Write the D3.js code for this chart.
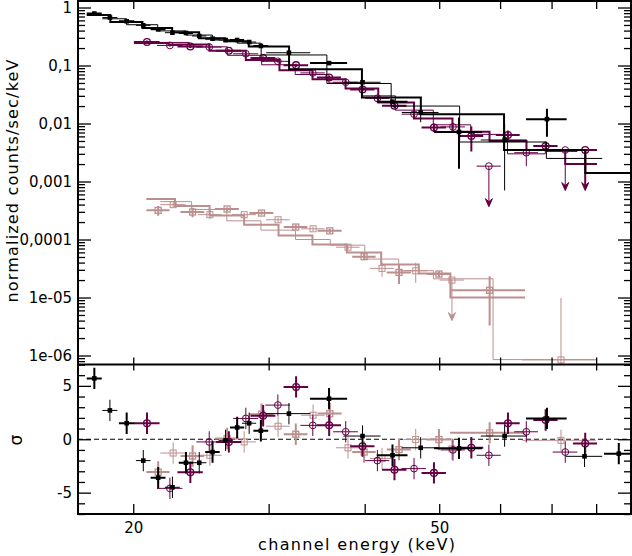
<!DOCTYPE html>
<html>
<head>
<meta charset="utf-8">
<script src="https://cdn.jsdelivr.net/npm/d3@7"></script>
<style>
  body { margin: 0; background: #fff; }
  svg { display: block; font-family: 'DejaVu Sans', sans-serif; }
</style>
</head>
<body>
<svg id="chart" width="632" height="556"></svg>
<script>
// spectrum 1 (black, filled squares) - null flux = negative, not drawn on log axis
const blackE = [17.80, 18.65, 19.61, 20.61, 21.55, 22.49, 23.42, 24.37, 25.36, 26.37, 27.30, 28.30, 29.31, 31.88, 35.95, 39.74, 43.47, 47.30, 53.05, 60.82, 69.04, 77.26, 85.61]
const blackDE = [0.40, 0.42, 0.45, 0.45, 0.48, 0.50, 0.50, 0.52, 0.55, 0.55, 0.58, 0.60, 0.65, 2.1, 2.0, 2.2, 2.0, 2.6, 3.8, 4.2, 4.2, 4.2, 3.7]
const blackFlux = [0.787, 0.671, 0.579, 0.493, 0.420, 0.368, 0.364, 0.323, 0.290, 0.275, 0.275, 0.254, 0.217, 0.166, 0.110, 0.0514, 0.0237, 0.0155, 0.00716, 0.0052, 0.0119, null, null]
const blackErr = [0.02, 0.018, 0.016, 0.015, 0.014, 0.032, 0.013, 0.012, 0.011, 0.011, 0.011, 0.010, 0.009, 0.006, 0.005, 0.003, 0.002, 0.005, 0.0055, 0.0045, 0.006, 0, 0]
const blackModel = [0.74, 0.64, 0.565, 0.505, 0.445, 0.395, 0.375, 0.335, 0.295, 0.275, 0.262, 0.243, 0.212, 0.152, 0.086, 0.049, 0.028, 0.020, 0.0145, 0.0048, 0.0035, 0.0025, 0.0014]
const blackSigma = [5.7, 2.7, 1.5, -2.0, -3.6, -4.5, -2.2, -2.2, -1.2, -0.1, 1.1, 1.5, 0.8, 2.4, 3.8, 0.3, -1.5, -0.8, -0.85, 0.3, 1.95, -1.6, -1.35]

// spectrum 2 (purple, open circles)
const purpleE = [20.84, 22.32, 23.73, 25.11, 26.63, 28.02, 29.51, 30.84, 32.57, 34.24, 35.96, 37.79, 39.74, 41.55, 43.73, 46.37, 49.22, 52.10, 55.05, 58.02, 61.43, 64.90, 68.77, 72.93, 77.42]
const purpleDE = [0.8, 0.85, 0.9, 0.95, 1.0, 1.05, 1.1, 1.15, 1.2, 1.25, 1.3, 1.4, 1.45, 1.5, 1.6, 1.7, 1.8, 1.9, 2.0, 2.1, 2.2, 2.3, 2.5, 2.7, 2.8]
const purpleFlux = [0.254, 0.222, 0.213, 0.208, 0.1795, 0.1593, 0.1347, 0.118, 0.1014, 0.0746, 0.0623, 0.0514, 0.0386, 0.0272, 0.0202, 0.0145, 0.00853, 0.00874, 0.0061, 0.00184, 0.00635, 0.00314, 0.00409, 0.00349, 0.00349]
const purpleErr = [0.016, 0.013, 0.012, 0.011, 0.010, 0.009, 0.008, 0.007, 0.006, 0.005, 0.0045, 0.0038, 0.003, 0.0024, 0.002, 0.0017, 0.0014, 0.0013, 0.0028, 0, 0.0012, 0.0013, 0.0008, 0, 0]
const purpleLimit = [0, 0, 0, 0, 0, 0, 0, 0, 0, 0, 0, 0, 0, 0, 0, 0, 0, 0, 0, 1, 0, 0, 0, 1, 1]
const purpleModel = [0.245, 0.25, 0.23, 0.21, 0.18, 0.15, 0.125, 0.103, 0.083, 0.070, 0.058, 0.050, 0.040, 0.030, 0.023, 0.017, 0.0122, 0.0095, 0.0072, 0.0065, 0.0050, 0.0030, 0.0035, 0.0033, 0.0020]
const purpleSigma = [1.5, -4.6, -3.1, -0.25, -0.25, 1.95, 2.2, 3.2, 4.9, 1.3, 1.3, 0.7, -0.65, -2.0, -2.85, -2.75, -3.15, -1.0, -0.8, -1.5, 1.5, 0.7, 1.8, -1.2, -0.4]

// spectrum 3 (pink, open squares)
const pinkE = [21.55, 22.54, 23.89, 25.16, 26.49, 27.88, 29.37, 30.86, 32.54, 34.27, 36.03, 38.05, 39.93, 42.13, 44.33, 46.60, 49.96, 51.94, 58.15, 72.0]
const pinkDE = [0.75, 0.85, 0.85, 0.9, 0.95, 1.0, 1.05, 1.1, 1.15, 1.2, 1.3, 1.35, 1.4, 1.5, 1.6, 1.65, 1.8, 1.9, 6.5, 7.9]
const pinkFlux = [3.18e-4, 3.99e-4, 2.98e-4, 2.68e-4, 3.36e-4, 2.68e-4, 2.86e-4, 2.19e-4, 1.64e-4, 1.53e-4, 1.41e-4, 7.37e-5, 5.06e-5, 3.18e-5, 2.71e-5, 2.89e-5, 2.54e-5, 2.0e-5, 1.33e-5, 8.4e-7]
const pinkErr = [0.6e-4, 0.4e-4, 0.55e-4, 0.45e-4, 0.25e-4, 0.2e-4, 0.2e-4, 0.18e-4, 0.15e-4, 0.14e-4, 0.12e-4, 0.6e-5, 0.5e-5, 0.9e-5, 1.0e-5, 1.1e-5, 0.3e-5, 0, 1.0e-5, 9.0e-6]
const pinkLimit = [0, 0, 0, 0, 0, 0, 0, 0, 0, 0, 0, 0, 0, 0, 0, 0, 0, 1, 0, 0]
const pinkModel = [5.0e-4, 4.5e-4, 3.8e-4, 3.3e-4, 2.6e-4, 2.1e-4, 1.8e-4, 1.45e-4, 1.17e-4, 1.0e-4, 8.2e-5, 8.0e-5, 6.0e-5, 4.6e-5, 3.7e-5, 2.9e-5, 2.6e-5, 2.1e-5, 1.0e-5, 8.5e-7]
const pinkSigma = [-3.07, -1.29, -1.57, -1.5, 0.07, -0.25, 2.35, 1.22, 0.47, 2.25, 2.4, -0.8, -1.2, -1.8, -0.97, -0.03, -0.03, -0.9, 0.6, -0.1]

// axis ticks
const xTicks = [20, 30, 40, 50, 60, 70, 80]
const xTickLabels = ['20', '', '', '50', '', '', '']
const yMajor = [1, 0.1, 0.01, 0.001, 1e-4, 1e-5, 1e-6]
const yMajorLabels = ['1', '0,1', '0,01', '0,001', '0,0001', '1e-05', '1e-06']
const rMajor = [-5, 0, 5]
const rMajorLabels = ['-5', '0', '5']
const rMinor = [-7, -6, -4, -3, -2, -1, 1, 2, 3, 4, 6, 7]

const purple = '#650045'
const pink = '#bc8f8f'

let plotLeft = 78, plotRight = 631
let plotTop = 1, plotMid = 364.5, plotBottom = 514

const x = d3.scaleLog().domain([16.95, 88.8]).range([plotLeft, plotRight])
const y = d3.scaleLog().domain([1.295, 7e-7]).range([plotTop, plotMid])
const yr = d3.scaleLinear().domain([-7, 7]).range([plotBottom, plotMid])

const svg = d3.select('#chart')

svg.append('rect').attr('width', 632).attr('height', 556).attr('fill', '#fff')

// clip areas for the two panels
const defs = svg.append('defs')
defs.append('clipPath').attr('id', 'clipTop')
  .append('rect').attr('x', plotLeft).attr('y', plotTop).attr('width', plotRight - plotLeft).attr('height', plotMid - plotTop)
defs.append('clipPath').attr('id', 'clipBot')
  .append('rect').attr('x', plotLeft).attr('y', plotMid).attr('width', plotRight - plotLeft).attr('height', plotBottom - plotMid)

const topG = svg.append('g').attr('clip-path', 'url(#clipTop)')
const botG = svg.append('g').attr('clip-path', 'url(#clipBot)')

// zero line of residuals
botG.append('line')
  .attr('x1', plotLeft).attr('x2', plotRight)
  .attr('y1', yr(0)).attr('y2', yr(0))
  .attr('stroke', '#000').attr('stroke-width', 1)
  .attr('stroke-dasharray', '5,3')

const sets = [
  { color: pink, mark: 'square', E: pinkE, dE: pinkDE, flux: pinkFlux, err: pinkErr, model: pinkModel, sigma: pinkSigma, limit: pinkLimit },
  { color: purple, mark: 'circle', E: purpleE, dE: purpleDE, flux: purpleFlux, err: purpleErr, model: purpleModel, sigma: purpleSigma, limit: purpleLimit },
  { color: '#000', mark: 'dot', E: blackE, dE: blackDE, flux: blackFlux, err: blackErr, model: blackModel, sigma: blackSigma, limit: null }
]

function marker(g, s, cx, cy, w) {
  if (s.mark == 'dot') {
    g.append('rect')
      .attr('x', cx - 2.3).attr('y', cy - 2.3)
      .attr('width', 4.6).attr('height', 4.6)
      .attr('fill', s.color)
  } else if (s.mark == 'circle') {
    g.append('circle')
      .attr('cx', cx).attr('cy', cy).attr('r', 3.4)
      .attr('fill', 'none').attr('stroke', s.color).attr('stroke-width', w > 1 ? 1.3 : 1)
  } else {
    g.append('rect')
      .attr('x', cx - 3).attr('y', cy - 3)
      .attr('width', 6).attr('height', 6)
      .attr('fill', 'none').attr('stroke', s.color).attr('stroke-width', w > 1 ? 1.3 : 1)
  }
}

function seg(g, x1, y1, x2, y2, color, w) {
  g.append('line')
    .attr('x1', x1).attr('y1', y1).attr('x2', x2).attr('y2', y2)
    .attr('stroke', color).attr('stroke-width', w)
}

sets.forEach(s => {
  const pts = s.E.map((e, i) => ({
    e: e,
    lo: e - s.dE[i],
    hi: e + s.dE[i],
    f: s.flux[i],
    err: s.err[i],
    m: s.model[i],
    sig: s.sigma[i],
    ul: s.limit ? s.limit[i] : 0,
    sub: i % 2
  }))

  // model: two interleaved spectra per colour, one thick and one thin step line
  ;[0, 1].forEach(sub => {
    const b = pts.filter(p => p.sub == sub)
    let d = `M${x(b[0].lo)},${y(b[0].m)}`
    for (let i = 1; i < b.length; i++) {
      const edge = (x(b[i - 1].hi) + x(b[i].lo)) / 2
      d += `H${edge}V${y(b[i].m)}`
    }
    d += `H${x(b[b.length - 1].hi)}`
    topG.append('path')
      .attr('d', d)
      .attr('fill', 'none')
      .attr('stroke', s.color)
      .attr('stroke-width', sub == 0 ? 2 : 1)
  })

  // data crosses
  pts.forEach(p => {
    const w = p.sub == 0 ? 2 : 1
    if (p.f != null) {
      const cy = y(p.f)
      seg(topG, x(p.lo), cy, x(p.hi), cy, s.color, w)
      if (p.ul) {
        const tip = y(p.f / 5)
        seg(topG, x(p.e), cy, x(p.e), tip - 4, s.color, w)
        topG.append('path')
          .attr('d', `M${x(p.e) - 3.5},${tip - 8}L${x(p.e)},${tip - 5}L${x(p.e) + 3.5},${tip - 8}L${x(p.e)},${tip}Z`)
          .attr('fill', s.color).attr('stroke', s.color).attr('stroke-width', 1)
      } else if (p.err > 0) {
        const low = Math.max(p.f - p.err, 1e-9)
        seg(topG, x(p.e), y(p.f + p.err), x(p.e), y(low), s.color, w)
      }
      marker(topG, s, x(p.e), cy, w)
    }

    // residuals in sigma
    const ry = yr(p.sig)
    seg(botG, x(p.lo), ry, x(p.hi), ry, s.color, w)
    seg(botG, x(p.e), yr(p.sig + 1), x(p.e), yr(p.sig - 1), s.color, w)
    marker(botG, s, x(p.e), ry, w)
  })
})

// axes: ticks point inwards on every side
const yMinor = y.ticks().filter(v => Math.abs(Math.log10(v) - Math.round(Math.log10(v))) > 1e-6)

function styleAxis(g) {
  g.select('.domain').remove()
  g.selectAll('line').attr('stroke', '#000').attr('stroke-width', 1.3)
  g.selectAll('text').attr('fill', '#000').attr('font-size', 15).attr('font-family', 'DejaVu Sans, sans-serif')
}

svg.append('g').attr('transform', `translate(${plotLeft},0)`)
  .call(d3.axisLeft(y).tickValues(yMajor).tickSize(-13).tickPadding(6).tickFormat((d, i) => yMajorLabels[i]))
  .call(styleAxis)
svg.append('g').attr('transform', `translate(${plotLeft},0)`)
  .call(d3.axisLeft(y).tickValues(yMinor).tickSize(-7).tickFormat(''))
  .call(styleAxis)
svg.append('g').attr('transform', `translate(${plotRight},0)`)
  .call(d3.axisRight(y).tickValues(yMajor).tickSize(-13).tickFormat(''))
  .call(styleAxis)
svg.append('g').attr('transform', `translate(${plotRight},0)`)
  .call(d3.axisRight(y).tickValues(yMinor).tickSize(-7).tickFormat(''))
  .call(styleAxis)

svg.append('g').attr('transform', `translate(${plotLeft},0)`)
  .call(d3.axisLeft(yr).tickValues(rMajor).tickSize(-13).tickPadding(6).tickFormat((d, i) => rMajorLabels[i]))
  .call(styleAxis)
svg.append('g').attr('transform', `translate(${plotLeft},0)`)
  .call(d3.axisLeft(yr).tickValues(rMinor).tickSize(-7).tickFormat(''))
  .call(styleAxis)
svg.append('g').attr('transform', `translate(${plotRight},0)`)
  .call(d3.axisRight(yr).tickValues(rMajor).tickSize(-13).tickFormat(''))
  .call(styleAxis)
svg.append('g').attr('transform', `translate(${plotRight},0)`)
  .call(d3.axisRight(yr).tickValues(rMinor).tickSize(-7).tickFormat(''))
  .call(styleAxis)

svg.append('g').attr('transform', `translate(0,${plotTop})`)
  .call(d3.axisTop(x).tickValues(xTicks).tickSize(-8).tickFormat(''))
  .call(styleAxis)
svg.append('g').attr('transform', `translate(0,${plotMid})`)
  .call(d3.axisBottom(x).tickValues(xTicks).tickSize(-7).tickFormat(''))
  .call(styleAxis)
svg.append('g').attr('transform', `translate(0,${plotMid})`)
  .call(d3.axisTop(x).tickValues(xTicks).tickSize(-6).tickFormat(''))
  .call(styleAxis)
svg.append('g').attr('transform', `translate(0,${plotBottom})`)
  .call(d3.axisBottom(x).tickValues(xTicks).tickSize(-10).tickPadding(8).tickFormat((d, i) => xTickLabels[i]))
  .call(styleAxis)

// frame
svg.append('rect')
  .attr('x', plotLeft).attr('y', plotTop)
  .attr('width', plotRight - plotLeft).attr('height', plotBottom - plotTop)
  .attr('fill', 'none').attr('stroke', '#000').attr('stroke-width', 2)
svg.append('line')
  .attr('x1', plotLeft).attr('x2', plotRight).attr('y1', plotMid).attr('y2', plotMid)
  .attr('stroke', '#000').attr('stroke-width', 2)

// titles
svg.append('text')
  .attr('transform', 'translate(17.5,181) rotate(-90)')
  .attr('text-anchor', 'middle')
  .attr('font-size', 16)
  .attr('textLength', 243).attr('lengthAdjust', 'spacing')
  .text('normalized counts/sec/keV')

svg.append('text')
  .attr('transform', 'translate(22,440) rotate(-90)')
  .attr('text-anchor', 'middle')
  .attr('font-size', 17)
  .text('σ')

svg.append('text')
  .attr('x', 356.5).attr('y', 550)
  .attr('text-anchor', 'middle')
  .attr('font-size', 16)
  .attr('textLength', 197).attr('lengthAdjust', 'spacing')
  .text('channel energy (keV)')
</script>
</body>
</html>
